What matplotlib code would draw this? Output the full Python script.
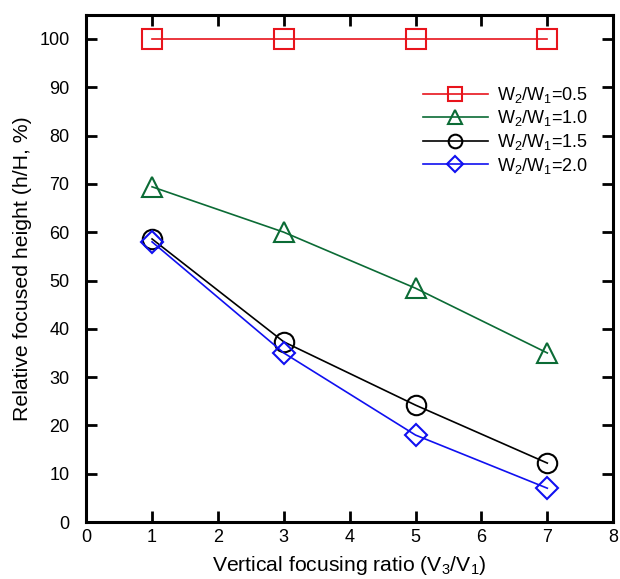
import matplotlib
matplotlib.use("Agg")
import matplotlib.pyplot as plt

plt.rcParams['font.family'] = ['Liberation Sans', 'DejaVu Sans']
plt.rcParams['mathtext.fontset'] = 'custom'
plt.rcParams['mathtext.rm'] = 'Liberation Sans'
plt.rcParams['mathtext.it'] = 'Liberation Sans:italic'

ratio = [1, 3, 5, 7]
h_05 = [100, 100, 100, 100]
h_10 = [69.4, 60.0, 48.4, 35.0]
h_15 = [58.6, 37.3, 24.2, 12.2]
h_20 = [58.0, 35.0, 18.0, 7.0]

fig = plt.figure(figsize=(6.2, 5.79), dpi=100)
ax = fig.add_axes([0.139, 0.0984, 0.85, 0.876])

ax.plot(ratio, h_05, color='#e8141c', lw=1.2, marker='s', ms=14, mfc='none', mew=1.5,
        label='W$_2$/W$_1$=0.5')
ax.plot(ratio, h_10, color='#0b6b35', lw=1.2, marker='^', ms=14, mfc='none', mew=1.5,
        label='W$_2$/W$_1$=1.0')
ax.plot(ratio, h_15, color='black', lw=1.2, marker='o', ms=14, mfc='none', mew=1.5,
        label='W$_2$/W$_1$=1.5')
ax.plot(ratio, h_20, color='#1010f0', lw=1.2, marker='D', ms=11, mfc='none', mew=1.5,
        label='W$_2$/W$_1$=2.0')

ax.set_xlim(0, 8)
ax.set_ylim(0, 105)
ax.set_xticks(range(0, 9))
ax.set_yticks(range(0, 101, 10))
ax.tick_params(direction='in', length=8, width=2, top=True, right=True, labelsize=13)
ax.tick_params(axis='y', pad=12)
ax.tick_params(axis='x', pad=5)
for s in ax.spines.values():
    s.set_linewidth(2.2)

ax.set_xlabel('Vertical focusing ratio (V$_3$/V$_1$)', fontsize=15.2, labelpad=6)
ax.set_ylabel('Relative focused height (h/H, %)', fontsize=15.3, labelpad=5)

ax.legend(loc='upper left', bbox_to_anchor=(0.608, 0.894), frameon=False, fontsize=13,
          handlelength=3.6, labelspacing=0.2, handletextpad=0.5, markerscale=0.7)

fig.savefig('out.png', dpi=100)
